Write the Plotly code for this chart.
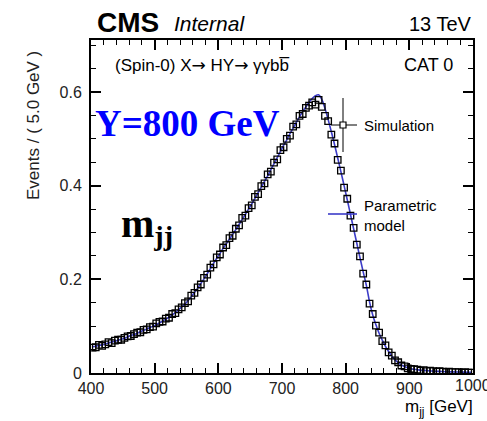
import plotly.graph_objects as go

# ---------------- data ----------------
bin_centers = [402.5 + 5 * i for i in range(120)]

sim_values = [
    0.054, 0.055, 0.060, 0.058, 0.061, 0.066, 0.064, 0.069, 0.071, 0.071,
    0.075, 0.078, 0.079, 0.083, 0.086, 0.087, 0.092, 0.093, 0.098, 0.099,
    0.106, 0.109, 0.110, 0.116, 0.118, 0.126, 0.128, 0.136, 0.140, 0.149,
    0.153, 0.165, 0.171, 0.183, 0.189, 0.203, 0.210, 0.225, 0.232, 0.247,
    0.253, 0.268, 0.273, 0.288, 0.293, 0.308, 0.315, 0.331, 0.336, 0.352,
    0.358, 0.376, 0.382, 0.399, 0.405, 0.424, 0.430, 0.449, 0.456, 0.476,
    0.482, 0.500, 0.507, 0.526, 0.531, 0.549, 0.553, 0.566, 0.571, 0.578,
    0.573, 0.583, 0.568, 0.549, 0.538, 0.509, 0.490, 0.455, 0.432, 0.396,
    0.372, 0.336, 0.310, 0.274, 0.249, 0.212, 0.189, 0.148, 0.126, 0.101,
    0.086, 0.068, 0.059, 0.044, 0.037, 0.027, 0.023, 0.016, 0.014, 0.010,
    0.009, 0.008, 0.007, 0.005, 0.006, 0.004, 0.005, 0.004, 0.003, 0.004,
    0.003, 0.002, 0.003, 0.002, 0.002, 0.002, 0.001, 0.002, 0.001, 0.001,
]

model_values = [
    0.056, 0.057, 0.059, 0.060, 0.062, 0.064, 0.066, 0.068, 0.070, 0.072,
    0.074, 0.077, 0.080, 0.082, 0.085, 0.088, 0.091, 0.094, 0.097, 0.100,
    0.103, 0.107, 0.111, 0.115, 0.119, 0.124, 0.129, 0.135, 0.141, 0.147,
    0.155, 0.163, 0.172, 0.181, 0.191, 0.201, 0.212, 0.223, 0.234, 0.245,
    0.255, 0.266, 0.276, 0.286, 0.296, 0.306, 0.317, 0.328, 0.339, 0.350,
    0.361, 0.373, 0.385, 0.397, 0.409, 0.421, 0.434, 0.447, 0.460, 0.473,
    0.486, 0.498, 0.511, 0.523, 0.535, 0.547, 0.558, 0.568, 0.578, 0.586,
    0.592, 0.594, 0.584, 0.565, 0.541, 0.515, 0.488, 0.459, 0.430, 0.400,
    0.370, 0.339, 0.308, 0.277, 0.246, 0.216, 0.187, 0.152, 0.124, 0.103,
    0.085, 0.070, 0.057, 0.046, 0.036, 0.028, 0.022, 0.017, 0.014, 0.011,
    0.009, 0.008, 0.007, 0.006, 0.0055, 0.005, 0.0045, 0.004, 0.0037, 0.0034,
    0.0031, 0.0028, 0.0026, 0.0024, 0.0022, 0.0020, 0.0019, 0.0018, 0.0017, 0.0016,
]

x_ticks = [400, 500, 600, 700, 800, 900, 1000]
x_tick_labels = ["400", "500", "600", "700", "800", "900", "1000"]
y_ticks = [0, 0.2, 0.4, 0.6]
y_tick_labels = ["0", "0.2", "0.4", "0.6"]

# ---------------- layout geometry ----------------
W, H = 487, 421
L, R, T, B = 91, 14, 40, 48
PW, PH = W - L - R, H - T - B


def px(x):
    return (x - L) / PW


def py(y):
    return (H - B - y) / PH


SANS = "Liberation Sans, Arial, sans-serif"
SERIF = "Liberation Serif, Times New Roman, serif"
BLUE_LINE = "#3c3cc8"

fig = go.Figure()

fig.add_trace(go.Scatter(
    x=bin_centers, y=model_values, mode="lines",
    line=dict(color=BLUE_LINE, width=1.6, shape="spline"),
    showlegend=False, hoverinfo="skip",
))
fig.add_trace(go.Scatter(
    x=bin_centers, y=sim_values, mode="markers",
    marker=dict(symbol="square-open", size=6.5, color="black",
                line=dict(width=1.3, color="black")),
    showlegend=False,
))

axis_common = dict(
    showline=True, linecolor="black", linewidth=2, mirror="ticks",
    ticks="inside", ticklen=10, tickwidth=1.5, tickcolor="black",
    showgrid=False, zeroline=False,
    tickfont=dict(family=SANS, size=16, color="#222"),
)

fig.update_xaxes(
    range=[400, 1000], tickvals=x_ticks[:-1], ticktext=x_tick_labels[:-1],
    minor=dict(ticks="inside", ticklen=5, dtick=20, tickwidth=1.2,
               tickcolor="black", showgrid=False),
    **axis_common,
)
fig.update_yaxes(
    range=[0, 0.711], tickvals=y_ticks, ticktext=y_tick_labels,
    minor=dict(ticks="inside", ticklen=5, dtick=0.05, tickwidth=1.2,
               tickcolor="black", showgrid=False),
    ticklabelstandoff=4,
    **axis_common,
)

ann = []


def text(x, y, s, size, family=SANS, color="black", xanchor="left",
         yanchor="middle", align="left"):
    ann.append(dict(x=px(x), y=py(y), xref="paper", yref="paper", text=s,
                    showarrow=False, xanchor=xanchor, yanchor=yanchor, align=align,
                    font=dict(family=family, size=size, color=color)))


# last x tick label (drawn at the 1000 tick, runs off the right edge as in the reference)
ann.append(dict(x=x_ticks[-1], y=0, xref="x", yref="paper", text=x_tick_labels[-1],
                showarrow=False, xanchor="center", yanchor="top", yshift=-2,
                font=dict(family=SANS, size=16, color="#222")))

ARROW = '<span style="font-family:DejaVu Sans">\u2192</span>'
text(95, 22, "<b>CMS</b>", 28)
text(172, 24, "<i>Internal</i>", 21)
text(474, 24, "13 TeV", 20, xanchor="right")
text(113, 65, "(Spin-0) X" + ARROW + " HY" + ARROW + " \u03b3\u03b3bb\u0305", 17)
text(455, 65, "CAT 0", 18, xanchor="right")
text(93, 124, "<b>Y=800 GeV</b>", 37, family=SERIF, color="#0000ff")
text(119, 226, "<b>m<sub>jj</sub></b>", 40, family=SERIF)
text(362, 125, "Simulation", 15)
text(362, 215, "Parametric<br>model", 15)
text(475, 408, "m<sub>jj</sub> [GeV]", 17, xanchor="right")

ann.append(dict(x=px(34), y=py(126), xref="paper", yref="paper",
                text="Events / ( 5.0 GeV )", showarrow=False, textangle=-90,
                xanchor="center", yanchor="middle",
                font=dict(family=SANS, size=17, color="#222")))

shapes = [
    # Simulation legend symbol: cross with open square
    dict(type="line", xref="paper", yref="paper", x0=px(343), x1=px(343),
         y0=py(98), y1=py(152), line=dict(color="black", width=1)),
    dict(type="line", xref="paper", yref="paper", x0=px(331), x1=px(357),
         y0=py(125), y1=py(125), line=dict(color="black", width=1)),
    dict(type="rect", xref="paper", yref="paper", x0=px(340), x1=px(346),
         y0=py(122), y1=py(128), line=dict(color="black", width=1.2),
         fillcolor="white"),
    # Parametric model legend line
    dict(type="line", xref="paper", yref="paper", x0=px(328), x1=px(357),
         y0=py(214), y1=py(214), line=dict(color=BLUE_LINE, width=1.6)),
]

fig.update_layout(
    width=W, height=H,
    margin=dict(l=L, r=R, t=T, b=B),
    paper_bgcolor="white", plot_bgcolor="white",
    annotations=ann, shapes=shapes, showlegend=False,
)

fig.write_html("out.html")
